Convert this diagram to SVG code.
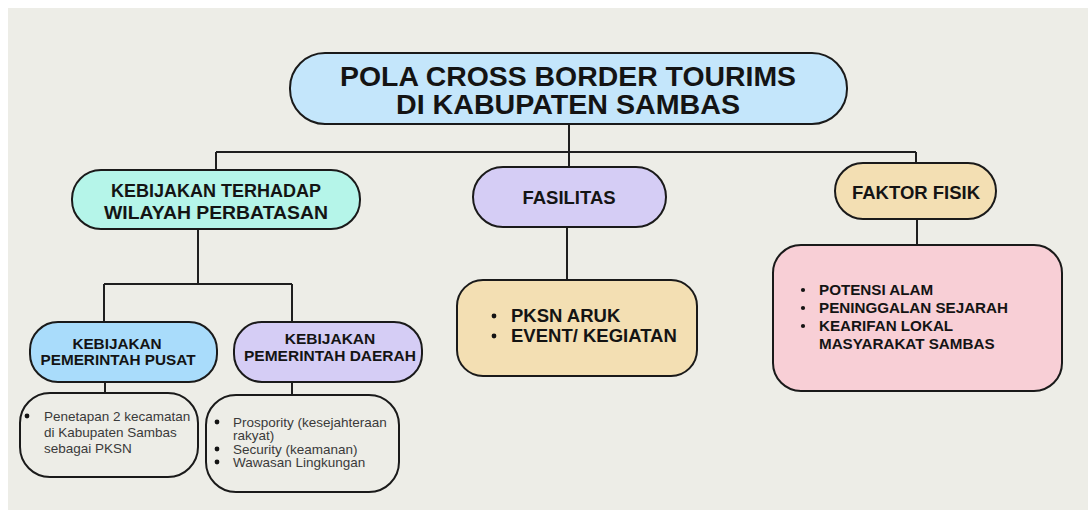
<svg xmlns="http://www.w3.org/2000/svg" width="1088" height="510" viewBox="0 0 1088 510">
<style>
.node{stroke:#1a1a1a;stroke-width:2}
.conn{stroke:#1f1f1f;stroke-width:2;fill:none}
.b{font-family:"Liberation Sans",Arial,sans-serif;font-weight:bold;fill:#141414}
.r{font-family:"Liberation Sans",Arial,sans-serif;fill:#3a3a3a;font-size:13.5px}
.c{text-anchor:middle}
.dot{fill:#141414}
</style>
<rect x="0" y="0" width="1088" height="510" fill="#ffffff"/>
<rect x="8" y="8" width="1080" height="502" fill="#EDEDE7"/>
<g id="connectors">
<path class="conn" d="M569 124 V152 M216 152 H916 M216 152 V170 M569 152 V167 M916 152 V163"/>
<path class="conn" d="M198 229 V284 M104 284 H292 M104 284 V322 M292 284 V322"/>
<path class="conn" d="M567 227 V280 M917 219 V245"/>
<path class="conn" d="M105 382 V393 M292 382 V395"/>
</g>
<g id="title">
<rect class="node" x="290" y="53" width="557" height="71" rx="35" fill="#C4E6FB"/>
<text class="b c" font-size="27.5"><tspan x="568" y="86" textLength="456" lengthAdjust="spacingAndGlyphs">POLA CROSS BORDER TOURIMS</tspan><tspan x="568" y="114" textLength="344" lengthAdjust="spacingAndGlyphs">DI KABUPATEN SAMBAS</tspan></text>
</g>
<g id="kebijakan-terhadap">
<rect class="node" x="72" y="170" width="288" height="59" rx="29" fill="#B5F5E9"/>
<text class="b c" font-size="18"><tspan x="216" y="197">KEBIJAKAN TERHADAP</tspan><tspan x="216" y="219" textLength="224" lengthAdjust="spacingAndGlyphs">WILAYAH PERBATASAN</tspan></text>
</g>
<g id="fasilitas">
<rect class="node" x="473" y="167" width="193" height="60" rx="30" fill="#D5CDF5"/>
<text class="b c" x="569" y="204" font-size="18.5">FASILITAS</text>
</g>
<g id="faktor-fisik">
<rect class="node" x="835" y="163" width="161" height="56" rx="28" fill="#F3DFB3"/>
<text class="b c" x="916" y="199" font-size="18.5">FAKTOR FISIK</text>
</g>
<g id="pksn">
<rect class="node" x="457" y="280" width="240" height="96" rx="26" fill="#F3DFB3"/>
<circle class="dot" cx="494" cy="316" r="2.4"/>
<circle class="dot" cx="494" cy="336" r="2.4"/>
<text class="b" font-size="18.5"><tspan x="511" y="322">PKSN ARUK</tspan><tspan x="511" y="342">EVENT/ KEGIATAN</tspan></text>
</g>
<g id="faktor-list">
<rect class="node" x="773" y="245" width="289" height="146" rx="28" fill="#F8CFD6"/>
<circle class="dot" cx="803" cy="290" r="2.1"/>
<circle class="dot" cx="803" cy="308" r="2.1"/>
<circle class="dot" cx="803" cy="326" r="2.1"/>
<text class="b" font-size="15.2"><tspan x="819" y="295">POTENSI ALAM</tspan><tspan x="819" y="313">PENINGGALAN SEJARAH</tspan><tspan x="819" y="331">KEARIFAN LOKAL</tspan><tspan x="819" y="349">MASYARAKAT SAMBAS</tspan></text>
</g>
<g id="pusat">
<rect class="node" x="30" y="322" width="187" height="60" rx="28" fill="#A9DCFB"/>
<text class="b c" font-size="15.3"><tspan x="117" y="349">KEBIJAKAN</tspan><tspan x="118" y="365">PEMERINTAH PUSAT</tspan></text>
</g>
<g id="daerah">
<rect class="node" x="234" y="322" width="188" height="60" rx="28" fill="#D5CDF5"/>
<text class="b c" font-size="15.5"><tspan x="330" y="344">KEBIJAKAN</tspan><tspan x="330" y="361">PEMERINTAH DAERAH</tspan></text>
</g>
<g id="pusat-detail">
<rect class="node" x="20" y="393" width="178" height="84" rx="30" fill="#EDEDE7"/>
<circle class="dot" cx="27" cy="416" r="2.4"/>
<text class="r"><tspan x="44" y="421">Penetapan 2 kecamatan</tspan><tspan x="44" y="437">di Kabupaten Sambas</tspan><tspan x="44" y="453">sebagai PKSN</tspan></text>
</g>
<g id="daerah-detail">
<rect class="node" x="206" y="395" width="193" height="97" rx="30" fill="#EDEDE7"/>
<circle class="dot" cx="217" cy="422" r="2.4"/>
<circle class="dot" cx="217" cy="449" r="2.4"/>
<circle class="dot" cx="217" cy="462" r="2.4"/>
<text class="r"><tspan x="233" y="427">Prospority (kesejahteraan</tspan><tspan x="233" y="440">rakyat)</tspan><tspan x="233" y="454">Security (keamanan)</tspan><tspan x="233" y="467">Wawasan Lingkungan</tspan></text>
</g>
</svg>
